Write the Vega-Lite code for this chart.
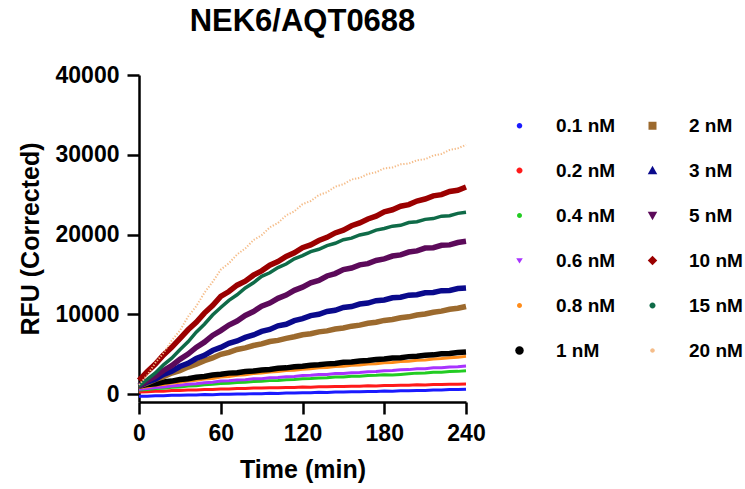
{
"$schema": "https://vega.github.io/schema/vega-lite/v6.json",
"width": 327, "height": 327,
"autosize": {"type": "none"},
"padding": {"left": 139, "top": 75, "right": 279, "bottom": 87},
"background": "white",
"title": {"text": "NEK6/AQT0688", "fontSize": 31, "fontWeight": "bold", "anchor": "middle", "frame": "group", "offset": 26, "color": "black"},
"data": {"values": [
{"s":"0.1 nM","t":0,"v":-290},{"s":"0.1 nM","t":6,"v":-280},{"s":"0.1 nM","t":12,"v":-220},{"s":"0.1 nM","t":18,"v":-220},{"s":"0.1 nM","t":24,"v":-160},{"s":"0.1 nM","t":30,"v":-160},{"s":"0.1 nM","t":36,"v":-110},{"s":"0.1 nM","t":42,"v":-120},{"s":"0.1 nM","t":48,"v":-70},{"s":"0.1 nM","t":54,"v":-80},{"s":"0.1 nM","t":60,"v":-30},{"s":"0.1 nM","t":66,"v":-40},{"s":"0.1 nM","t":72,"v":10},{"s":"0.1 nM","t":78,"v":0},{"s":"0.1 nM","t":84,"v":50},{"s":"0.1 nM","t":90,"v":40},{"s":"0.1 nM","t":96,"v":90},{"s":"0.1 nM","t":102,"v":80},{"s":"0.1 nM","t":108,"v":130},{"s":"0.1 nM","t":114,"v":120},{"s":"0.1 nM","t":120,"v":170},{"s":"0.1 nM","t":126,"v":160},{"s":"0.1 nM","t":132,"v":210},{"s":"0.1 nM","t":138,"v":200},{"s":"0.1 nM","t":144,"v":250},{"s":"0.1 nM","t":150,"v":240},{"s":"0.1 nM","t":156,"v":290},{"s":"0.1 nM","t":162,"v":280},{"s":"0.1 nM","t":168,"v":330},{"s":"0.1 nM","t":174,"v":320},{"s":"0.1 nM","t":180,"v":370},{"s":"0.1 nM","t":186,"v":360},{"s":"0.1 nM","t":192,"v":410},{"s":"0.1 nM","t":198,"v":400},{"s":"0.1 nM","t":204,"v":450},{"s":"0.1 nM","t":210,"v":440},{"s":"0.1 nM","t":216,"v":500},{"s":"0.1 nM","t":222,"v":500},{"s":"0.1 nM","t":228,"v":560},{"s":"0.1 nM","t":234,"v":560},{"s":"0.1 nM","t":240,"v":610},
{"s":"0.2 nM","t":0,"v":260},{"s":"0.2 nM","t":6,"v":280},{"s":"0.2 nM","t":12,"v":350},{"s":"0.2 nM","t":18,"v":360},{"s":"0.2 nM","t":24,"v":430},{"s":"0.2 nM","t":30,"v":440},{"s":"0.2 nM","t":36,"v":500},{"s":"0.2 nM","t":42,"v":500},{"s":"0.2 nM","t":48,"v":560},{"s":"0.2 nM","t":54,"v":560},{"s":"0.2 nM","t":60,"v":620},{"s":"0.2 nM","t":66,"v":620},{"s":"0.2 nM","t":72,"v":680},{"s":"0.2 nM","t":78,"v":680},{"s":"0.2 nM","t":84,"v":740},{"s":"0.2 nM","t":90,"v":740},{"s":"0.2 nM","t":96,"v":790},{"s":"0.2 nM","t":102,"v":780},{"s":"0.2 nM","t":108,"v":830},{"s":"0.2 nM","t":114,"v":820},{"s":"0.2 nM","t":120,"v":870},{"s":"0.2 nM","t":126,"v":860},{"s":"0.2 nM","t":132,"v":910},{"s":"0.2 nM","t":138,"v":900},{"s":"0.2 nM","t":144,"v":950},{"s":"0.2 nM","t":150,"v":940},{"s":"0.2 nM","t":156,"v":990},{"s":"0.2 nM","t":162,"v":980},{"s":"0.2 nM","t":168,"v":1030},{"s":"0.2 nM","t":174,"v":1020},{"s":"0.2 nM","t":180,"v":1070},{"s":"0.2 nM","t":186,"v":1060},{"s":"0.2 nM","t":192,"v":1110},{"s":"0.2 nM","t":198,"v":1100},{"s":"0.2 nM","t":204,"v":1150},{"s":"0.2 nM","t":210,"v":1140},{"s":"0.2 nM","t":216,"v":1190},{"s":"0.2 nM","t":222,"v":1180},{"s":"0.2 nM","t":228,"v":1230},{"s":"0.2 nM","t":234,"v":1220},{"s":"0.2 nM","t":240,"v":1260},
{"s":"0.4 nM","t":0,"v":510},{"s":"0.4 nM","t":6,"v":570},{"s":"0.4 nM","t":12,"v":680},{"s":"0.4 nM","t":18,"v":730},{"s":"0.4 nM","t":24,"v":840},{"s":"0.4 nM","t":30,"v":890},{"s":"0.4 nM","t":36,"v":1000},{"s":"0.4 nM","t":42,"v":1050},{"s":"0.4 nM","t":48,"v":1160},{"s":"0.4 nM","t":54,"v":1210},{"s":"0.4 nM","t":60,"v":1320},{"s":"0.4 nM","t":66,"v":1350},{"s":"0.4 nM","t":72,"v":1440},{"s":"0.4 nM","t":78,"v":1470},{"s":"0.4 nM","t":84,"v":1560},{"s":"0.4 nM","t":90,"v":1590},{"s":"0.4 nM","t":96,"v":1680},{"s":"0.4 nM","t":102,"v":1710},{"s":"0.4 nM","t":108,"v":1800},{"s":"0.4 nM","t":114,"v":1830},{"s":"0.4 nM","t":120,"v":1920},{"s":"0.4 nM","t":126,"v":1940},{"s":"0.4 nM","t":132,"v":2020},{"s":"0.4 nM","t":138,"v":2040},{"s":"0.4 nM","t":144,"v":2120},{"s":"0.4 nM","t":150,"v":2140},{"s":"0.4 nM","t":156,"v":2220},{"s":"0.4 nM","t":162,"v":2240},{"s":"0.4 nM","t":168,"v":2320},{"s":"0.4 nM","t":174,"v":2340},{"s":"0.4 nM","t":180,"v":2420},{"s":"0.4 nM","t":186,"v":2380},{"s":"0.4 nM","t":192,"v":2460},{"s":"0.4 nM","t":198,"v":2540},{"s":"0.4 nM","t":204,"v":2620},{"s":"0.4 nM","t":210,"v":2640},{"s":"0.4 nM","t":216,"v":2720},{"s":"0.4 nM","t":222,"v":2740},{"s":"0.4 nM","t":228,"v":2820},{"s":"0.4 nM","t":234,"v":2840},{"s":"0.4 nM","t":240,"v":2910},
{"s":"0.6 nM","t":0,"v":610},{"s":"0.6 nM","t":6,"v":690},{"s":"0.6 nM","t":12,"v":820},{"s":"0.6 nM","t":18,"v":890},{"s":"0.6 nM","t":24,"v":1010},{"s":"0.6 nM","t":30,"v":1090},{"s":"0.6 nM","t":36,"v":1220},{"s":"0.6 nM","t":42,"v":1280},{"s":"0.6 nM","t":48,"v":1410},{"s":"0.6 nM","t":54,"v":1490},{"s":"0.6 nM","t":60,"v":1620},{"s":"0.6 nM","t":66,"v":1650},{"s":"0.6 nM","t":72,"v":1760},{"s":"0.6 nM","t":78,"v":1790},{"s":"0.6 nM","t":84,"v":1900},{"s":"0.6 nM","t":90,"v":1930},{"s":"0.6 nM","t":96,"v":2040},{"s":"0.6 nM","t":102,"v":2070},{"s":"0.6 nM","t":108,"v":2180},{"s":"0.6 nM","t":114,"v":2210},{"s":"0.6 nM","t":120,"v":2320},{"s":"0.6 nM","t":126,"v":2340},{"s":"0.6 nM","t":132,"v":2440},{"s":"0.6 nM","t":138,"v":2460},{"s":"0.6 nM","t":144,"v":2560},{"s":"0.6 nM","t":150,"v":2580},{"s":"0.6 nM","t":156,"v":2680},{"s":"0.6 nM","t":162,"v":2700},{"s":"0.6 nM","t":168,"v":2800},{"s":"0.6 nM","t":174,"v":2820},{"s":"0.6 nM","t":180,"v":2920},{"s":"0.6 nM","t":186,"v":2940},{"s":"0.6 nM","t":192,"v":3040},{"s":"0.6 nM","t":198,"v":3060},{"s":"0.6 nM","t":204,"v":3160},{"s":"0.6 nM","t":210,"v":3180},{"s":"0.6 nM","t":216,"v":3280},{"s":"0.6 nM","t":222,"v":3300},{"s":"0.6 nM","t":228,"v":3400},{"s":"0.6 nM","t":234,"v":3420},{"s":"0.6 nM","t":240,"v":3510},
{"s":"0.8 nM","t":0,"v":820},{"s":"0.8 nM","t":6,"v":920},{"s":"0.8 nM","t":12,"v":1100},{"s":"0.8 nM","t":18,"v":1200},{"s":"0.8 nM","t":24,"v":1380},{"s":"0.8 nM","t":30,"v":1480},{"s":"0.8 nM","t":36,"v":1640},{"s":"0.8 nM","t":42,"v":1720},{"s":"0.8 nM","t":48,"v":1880},{"s":"0.8 nM","t":54,"v":1960},{"s":"0.8 nM","t":60,"v":2120},{"s":"0.8 nM","t":66,"v":2190},{"s":"0.8 nM","t":72,"v":2340},{"s":"0.8 nM","t":78,"v":2410},{"s":"0.8 nM","t":84,"v":2560},{"s":"0.8 nM","t":90,"v":2630},{"s":"0.8 nM","t":96,"v":2760},{"s":"0.8 nM","t":102,"v":2810},{"s":"0.8 nM","t":108,"v":2940},{"s":"0.8 nM","t":114,"v":2990},{"s":"0.8 nM","t":120,"v":3120},{"s":"0.8 nM","t":126,"v":3160},{"s":"0.8 nM","t":132,"v":3280},{"s":"0.8 nM","t":138,"v":3320},{"s":"0.8 nM","t":144,"v":3440},{"s":"0.8 nM","t":150,"v":3480},{"s":"0.8 nM","t":156,"v":3600},{"s":"0.8 nM","t":162,"v":3640},{"s":"0.8 nM","t":168,"v":3760},{"s":"0.8 nM","t":174,"v":3800},{"s":"0.8 nM","t":180,"v":3920},{"s":"0.8 nM","t":186,"v":3960},{"s":"0.8 nM","t":192,"v":4080},{"s":"0.8 nM","t":198,"v":4120},{"s":"0.8 nM","t":204,"v":4240},{"s":"0.8 nM","t":210,"v":4280},{"s":"0.8 nM","t":216,"v":4400},{"s":"0.8 nM","t":222,"v":4440},{"s":"0.8 nM","t":228,"v":4560},{"s":"0.8 nM","t":234,"v":4600},{"s":"0.8 nM","t":240,"v":4720},
{"s":"1 nM","t":0,"v":1000},{"s":"1 nM","t":6,"v":1180},{"s":"1 nM","t":12,"v":1300},{"s":"1 nM","t":18,"v":1500},{"s":"1 nM","t":24,"v":1620},{"s":"1 nM","t":30,"v":1820},{"s":"1 nM","t":36,"v":1920},{"s":"1 nM","t":42,"v":2100},{"s":"1 nM","t":48,"v":2200},{"s":"1 nM","t":54,"v":2380},{"s":"1 nM","t":60,"v":2480},{"s":"1 nM","t":66,"v":2620},{"s":"1 nM","t":72,"v":2680},{"s":"1 nM","t":78,"v":2820},{"s":"1 nM","t":84,"v":2880},{"s":"1 nM","t":90,"v":3020},{"s":"1 nM","t":96,"v":3080},{"s":"1 nM","t":102,"v":3220},{"s":"1 nM","t":108,"v":3280},{"s":"1 nM","t":114,"v":3420},{"s":"1 nM","t":120,"v":3480},{"s":"1 nM","t":126,"v":3610},{"s":"1 nM","t":132,"v":3660},{"s":"1 nM","t":138,"v":3780},{"s":"1 nM","t":144,"v":3840},{"s":"1 nM","t":150,"v":3970},{"s":"1 nM","t":156,"v":4020},{"s":"1 nM","t":162,"v":4150},{"s":"1 nM","t":168,"v":4200},{"s":"1 nM","t":174,"v":4330},{"s":"1 nM","t":180,"v":4380},{"s":"1 nM","t":186,"v":4510},{"s":"1 nM","t":192,"v":4560},{"s":"1 nM","t":198,"v":4690},{"s":"1 nM","t":204,"v":4740},{"s":"1 nM","t":210,"v":4870},{"s":"1 nM","t":216,"v":4910},{"s":"1 nM","t":222,"v":5040},{"s":"1 nM","t":228,"v":5080},{"s":"1 nM","t":234,"v":5210},{"s":"1 nM","t":240,"v":5270},
{"s":"2 nM","t":0,"v":1000},{"s":"2 nM","t":6,"v":1380},{"s":"2 nM","t":12,"v":1830},{"s":"2 nM","t":18,"v":2180},{"s":"2 nM","t":24,"v":2630},{"s":"2 nM","t":30,"v":2930},{"s":"2 nM","t":36,"v":3380},{"s":"2 nM","t":42,"v":3730},{"s":"2 nM","t":48,"v":4180},{"s":"2 nM","t":54,"v":4530},{"s":"2 nM","t":60,"v":4980},{"s":"2 nM","t":66,"v":5230},{"s":"2 nM","t":72,"v":5580},{"s":"2 nM","t":78,"v":5780},{"s":"2 nM","t":84,"v":6080},{"s":"2 nM","t":90,"v":6280},{"s":"2 nM","t":96,"v":6580},{"s":"2 nM","t":102,"v":6730},{"s":"2 nM","t":108,"v":6980},{"s":"2 nM","t":114,"v":7180},{"s":"2 nM","t":120,"v":7430},{"s":"2 nM","t":126,"v":7560},{"s":"2 nM","t":132,"v":7790},{"s":"2 nM","t":138,"v":7920},{"s":"2 nM","t":144,"v":8150},{"s":"2 nM","t":150,"v":8280},{"s":"2 nM","t":156,"v":8510},{"s":"2 nM","t":162,"v":8640},{"s":"2 nM","t":168,"v":8870},{"s":"2 nM","t":174,"v":9000},{"s":"2 nM","t":180,"v":9230},{"s":"2 nM","t":186,"v":9350},{"s":"2 nM","t":192,"v":9570},{"s":"2 nM","t":198,"v":9680},{"s":"2 nM","t":204,"v":9910},{"s":"2 nM","t":210,"v":10030},{"s":"2 nM","t":216,"v":10260},{"s":"2 nM","t":222,"v":10390},{"s":"2 nM","t":228,"v":10620},{"s":"2 nM","t":234,"v":10750},{"s":"2 nM","t":240,"v":10980},
{"s":"3 nM","t":0,"v":1000},{"s":"3 nM","t":6,"v":1500},{"s":"3 nM","t":12,"v":1850},{"s":"3 nM","t":18,"v":2450},{"s":"3 nM","t":24,"v":2850},{"s":"3 nM","t":30,"v":3450},{"s":"3 nM","t":36,"v":3850},{"s":"3 nM","t":42,"v":4450},{"s":"3 nM","t":48,"v":4850},{"s":"3 nM","t":54,"v":5450},{"s":"3 nM","t":60,"v":5850},{"s":"3 nM","t":66,"v":6350},{"s":"3 nM","t":72,"v":6650},{"s":"3 nM","t":78,"v":7100},{"s":"3 nM","t":84,"v":7400},{"s":"3 nM","t":90,"v":7850},{"s":"3 nM","t":96,"v":8100},{"s":"3 nM","t":102,"v":8550},{"s":"3 nM","t":108,"v":8750},{"s":"3 nM","t":114,"v":9200},{"s":"3 nM","t":120,"v":9450},{"s":"3 nM","t":126,"v":9830},{"s":"3 nM","t":132,"v":10000},{"s":"3 nM","t":138,"v":10350},{"s":"3 nM","t":144,"v":10500},{"s":"3 nM","t":150,"v":10850},{"s":"3 nM","t":156,"v":10970},{"s":"3 nM","t":162,"v":11280},{"s":"3 nM","t":168,"v":11400},{"s":"3 nM","t":174,"v":11700},{"s":"3 nM","t":180,"v":11800},{"s":"3 nM","t":186,"v":12070},{"s":"3 nM","t":192,"v":12130},{"s":"3 nM","t":198,"v":12390},{"s":"3 nM","t":204,"v":12450},{"s":"3 nM","t":210,"v":12700},{"s":"3 nM","t":216,"v":12730},{"s":"3 nM","t":222,"v":12960},{"s":"3 nM","t":228,"v":12990},{"s":"3 nM","t":234,"v":13220},{"s":"3 nM","t":240,"v":13300},
{"s":"5 nM","t":0,"v":1000},{"s":"5 nM","t":6,"v":1650},{"s":"5 nM","t":12,"v":2200},{"s":"5 nM","t":18,"v":2950},{"s":"5 nM","t":24,"v":3550},{"s":"5 nM","t":30,"v":4350},{"s":"5 nM","t":36,"v":5000},{"s":"5 nM","t":42,"v":5850},{"s":"5 nM","t":48,"v":6500},{"s":"5 nM","t":54,"v":7350},{"s":"5 nM","t":60,"v":7950},{"s":"5 nM","t":66,"v":8650},{"s":"5 nM","t":72,"v":9150},{"s":"5 nM","t":78,"v":9850},{"s":"5 nM","t":84,"v":10350},{"s":"5 nM","t":90,"v":11000},{"s":"5 nM","t":96,"v":11400},{"s":"5 nM","t":102,"v":12000},{"s":"5 nM","t":108,"v":12400},{"s":"5 nM","t":114,"v":13000},{"s":"5 nM","t":120,"v":13400},{"s":"5 nM","t":126,"v":13950},{"s":"5 nM","t":132,"v":14250},{"s":"5 nM","t":138,"v":14800},{"s":"5 nM","t":144,"v":15100},{"s":"5 nM","t":150,"v":15600},{"s":"5 nM","t":156,"v":15800},{"s":"5 nM","t":162,"v":16200},{"s":"5 nM","t":168,"v":16350},{"s":"5 nM","t":174,"v":16750},{"s":"5 nM","t":180,"v":16950},{"s":"5 nM","t":186,"v":17300},{"s":"5 nM","t":192,"v":17450},{"s":"5 nM","t":198,"v":17800},{"s":"5 nM","t":204,"v":17950},{"s":"5 nM","t":210,"v":18300},{"s":"5 nM","t":216,"v":18350},{"s":"5 nM","t":222,"v":18650},{"s":"5 nM","t":228,"v":18700},{"s":"5 nM","t":234,"v":19000},{"s":"5 nM","t":240,"v":19150},
{"s":"10 nM","t":0,"v":1700},{"s":"10 nM","t":6,"v":2800},{"s":"10 nM","t":12,"v":3750},{"s":"10 nM","t":18,"v":4900},{"s":"10 nM","t":24,"v":5850},{"s":"10 nM","t":30,"v":6950},{"s":"10 nM","t":36,"v":8050},{"s":"10 nM","t":42,"v":9000},{"s":"10 nM","t":48,"v":10150},{"s":"10 nM","t":54,"v":11100},{"s":"10 nM","t":60,"v":12250},{"s":"10 nM","t":66,"v":12850},{"s":"10 nM","t":72,"v":13650},{"s":"10 nM","t":78,"v":14150},{"s":"10 nM","t":84,"v":14900},{"s":"10 nM","t":90,"v":15450},{"s":"10 nM","t":96,"v":16150},{"s":"10 nM","t":102,"v":16600},{"s":"10 nM","t":108,"v":17250},{"s":"10 nM","t":114,"v":17700},{"s":"10 nM","t":120,"v":18350},{"s":"10 nM","t":126,"v":18700},{"s":"10 nM","t":132,"v":19250},{"s":"10 nM","t":138,"v":19650},{"s":"10 nM","t":144,"v":20200},{"s":"10 nM","t":150,"v":20550},{"s":"10 nM","t":156,"v":21100},{"s":"10 nM","t":162,"v":21450},{"s":"10 nM","t":168,"v":21950},{"s":"10 nM","t":174,"v":22300},{"s":"10 nM","t":180,"v":22850},{"s":"10 nM","t":186,"v":23100},{"s":"10 nM","t":192,"v":23550},{"s":"10 nM","t":198,"v":23750},{"s":"10 nM","t":204,"v":24200},{"s":"10 nM","t":210,"v":24450},{"s":"10 nM","t":216,"v":24850},{"s":"10 nM","t":222,"v":25000},{"s":"10 nM","t":228,"v":25400},{"s":"10 nM","t":234,"v":25550},{"s":"10 nM","t":240,"v":25950},
{"s":"15 nM","t":0,"v":1000},{"s":"15 nM","t":6,"v":1850},{"s":"15 nM","t":12,"v":2650},{"s":"15 nM","t":18,"v":3650},{"s":"15 nM","t":24,"v":4500},{"s":"15 nM","t":30,"v":5550},{"s":"15 nM","t":36,"v":6550},{"s":"15 nM","t":42,"v":7750},{"s":"15 nM","t":48,"v":8750},{"s":"15 nM","t":54,"v":9900},{"s":"15 nM","t":60,"v":10850},{"s":"15 nM","t":66,"v":11750},{"s":"15 nM","t":72,"v":12450},{"s":"15 nM","t":78,"v":13300},{"s":"15 nM","t":84,"v":13950},{"s":"15 nM","t":90,"v":14750},{"s":"15 nM","t":96,"v":15200},{"s":"15 nM","t":102,"v":15850},{"s":"15 nM","t":108,"v":16300},{"s":"15 nM","t":114,"v":16950},{"s":"15 nM","t":120,"v":17350},{"s":"15 nM","t":126,"v":17850},{"s":"15 nM","t":132,"v":18150},{"s":"15 nM","t":138,"v":18600},{"s":"15 nM","t":144,"v":18900},{"s":"15 nM","t":150,"v":19350},{"s":"15 nM","t":156,"v":19550},{"s":"15 nM","t":162,"v":19950},{"s":"15 nM","t":168,"v":20150},{"s":"15 nM","t":174,"v":20550},{"s":"15 nM","t":180,"v":20750},{"s":"15 nM","t":186,"v":21050},{"s":"15 nM","t":192,"v":21150},{"s":"15 nM","t":198,"v":21500},{"s":"15 nM","t":204,"v":21600},{"s":"15 nM","t":210,"v":21900},{"s":"15 nM","t":216,"v":22000},{"s":"15 nM","t":222,"v":22300},{"s":"15 nM","t":228,"v":22350},{"s":"15 nM","t":234,"v":22650},{"s":"15 nM","t":240,"v":22800},
{"s":"20 nM","t":0,"v":1150},{"s":"20 nM","t":6,"v":2350},{"s":"20 nM","t":12,"v":3900},{"s":"20 nM","t":18,"v":5150},{"s":"20 nM","t":24,"v":6700},{"s":"20 nM","t":30,"v":7950},{"s":"20 nM","t":36,"v":9700},{"s":"20 nM","t":42,"v":11000},{"s":"20 nM","t":48,"v":12700},{"s":"20 nM","t":54,"v":14050},{"s":"20 nM","t":60,"v":15600},{"s":"20 nM","t":66,"v":16400},{"s":"20 nM","t":72,"v":17500},{"s":"20 nM","t":78,"v":18250},{"s":"20 nM","t":84,"v":19300},{"s":"20 nM","t":90,"v":19900},{"s":"20 nM","t":96,"v":20900},{"s":"20 nM","t":102,"v":21450},{"s":"20 nM","t":108,"v":22400},{"s":"20 nM","t":114,"v":22900},{"s":"20 nM","t":120,"v":23800},{"s":"20 nM","t":126,"v":24200},{"s":"20 nM","t":132,"v":24950},{"s":"20 nM","t":138,"v":25300},{"s":"20 nM","t":144,"v":26000},{"s":"20 nM","t":150,"v":26300},{"s":"20 nM","t":156,"v":26900},{"s":"20 nM","t":162,"v":27100},{"s":"20 nM","t":168,"v":27600},{"s":"20 nM","t":174,"v":27800},{"s":"20 nM","t":180,"v":28300},{"s":"20 nM","t":186,"v":28400},{"s":"20 nM","t":192,"v":28800},{"s":"20 nM","t":198,"v":28900},{"s":"20 nM","t":204,"v":29300},{"s":"20 nM","t":210,"v":29450},{"s":"20 nM","t":216,"v":29900},{"s":"20 nM","t":222,"v":30100},{"s":"20 nM","t":228,"v":30600},{"s":"20 nM","t":234,"v":30800},{"s":"20 nM","t":240,"v":31250}
]},
"encoding": {
  "x": {"field": "t", "type": "quantitative", "scale": {"domain": [0, 240], "nice": false},
        "axis": {"values": [0, 60, 120, 180, 240], "title": "Time (min)", "labelFlush": false, "labelPadding": 8, "titlePadding": 12}},
  "y": {"field": "v", "type": "quantitative", "scale": {"domain": [-1000, 40000], "nice": false, "zero": false},
        "axis": {"values": [0, 10000, 20000, 30000, 40000], "format": "d", "title": "RFU (Corrected)", "labelPadding": 8, "titlePadding": 12}},
  "stroke": {"field": "s", "type": "nominal", "legend": null,
        "scale": {"domain": ["20 nM","15 nM","10 nM","5 nM","3 nM","2 nM","1 nM","0.8 nM","0.6 nM","0.4 nM","0.2 nM","0.1 nM"],
                  "range": ["#f5bd8a","#0f6b48","#9b0000","#5c0a5a","#0a0a8c","#9c6a2e","#000000","#ff8c1a","#a833ff","#22cc22","#ff1a1a","#1a1aff"]}}
},
"layer": [
  {
    "transform": [{"filter": {"field": "s", "oneOf": ["0.1 nM","0.2 nM","0.4 nM","0.6 nM","0.8 nM"]}}],
    "mark": {"type": "line", "strokeWidth": 3, "clip": false}
  },
  {
    "transform": [{"filter": {"field": "s", "oneOf": ["1 nM","2 nM","3 nM","5 nM","10 nM"]}}],
    "mark": {"type": "line", "strokeWidth": 5.5, "clip": false}
  },
  {
    "transform": [{"filter": {"field": "s", "oneOf": ["15 nM"]}}],
    "mark": {"type": "line", "strokeWidth": 3.5, "clip": false}
  },
  {
    "transform": [{"filter": {"field": "s", "oneOf": ["20 nM"]}}],
    "mark": {"type": "line", "strokeWidth": 2, "strokeDash": [1.3, 1.7], "clip": false}
  },
  {
    "mark": {"type": "point", "filled": true, "opacity": 0, "size": 64},
    "encoding": {
      "stroke": null,
      "color": {"field": "s", "type": "nominal",
        "scale": {"domain": ["0.1 nM","0.2 nM","0.4 nM","0.6 nM","0.8 nM","1 nM","2 nM","3 nM","5 nM","10 nM","15 nM","20 nM"],
                  "range": ["#1a1aff","#ff1a1a","#22cc22","#a833ff","#ff8c1a","#000000","#9c6a2e","#0a0a8c","#5c0a5a","#9b0000","#0f6b48","#f5bd8a"]},
        "legend": {"title": null, "orient": "none", "legendX": 371, "legendY": 41, "columns": 2, "columnPadding": 27, "rowPadding": 25, "labelOffset": 27, "symbolOpacity": 1, "symbolStrokeWidth": 0, "labelFontSize": 19, "labelFontWeight": "bold", "labelColor": "black"}},
      "shape": {"field": "s", "type": "nominal",
        "scale": {"domain": ["0.1 nM","0.2 nM","0.4 nM","0.6 nM","0.8 nM","1 nM","2 nM","3 nM","5 nM","10 nM","15 nM","20 nM"],
                  "range": ["M-0.55,0A0.55,0.55,0,1,1,0.55,0A0.55,0.55,0,1,1,-0.55,0Z",
                            "M-0.6,0A0.6,0.6,0,1,1,0.6,0A0.6,0.6,0,1,1,-0.6,0Z",
                            "M-0.5,0A0.5,0.5,0,1,1,0.5,0A0.5,0.5,0,1,1,-0.5,0Z",
                            "M0,0.6L0.65,-0.45L-0.65,-0.45Z",
                            "M-0.5,0A0.5,0.5,0,1,1,0.5,0A0.5,0.5,0,1,1,-0.5,0Z",
                            "M-0.85,0A0.85,0.85,0,1,1,0.85,0A0.85,0.85,0,1,1,-0.85,0Z",
                            "M-0.8,-0.8H0.8V0.8H-0.8Z",
                            "M0,-0.95L0.95,0.75L-0.95,0.75Z",
                            "M0,0.95L0.95,-0.75L-0.95,-0.75Z",
                            "M0,-0.95L0.95,0L0,0.95L-0.95,0Z",
                            "M-0.6,0A0.6,0.6,0,1,1,0.6,0A0.6,0.6,0,1,1,-0.6,0Z",
                            "M-0.45,0A0.45,0.45,0,1,1,0.45,0A0.45,0.45,0,1,1,-0.45,0Z"]},
        "legend": {"title": null, "orient": "none", "legendX": 371, "legendY": 41, "columns": 2, "columnPadding": 27, "rowPadding": 25, "labelOffset": 27, "symbolOpacity": 1, "symbolStrokeWidth": 0, "labelFontSize": 19, "labelFontWeight": "bold", "labelColor": "black"}}
    }
  }
],
"config": {
  "font": "Liberation Sans",
  "view": {"stroke": null},
  "axis": {"grid": false, "domainColor": "black", "domainWidth": 2.5, "tickColor": "black", "tickWidth": 2.5, "tickSize": 12,
           "labelFontSize": 23, "labelFontWeight": "bold", "labelColor": "black",
           "titleFontSize": 25, "titleFontWeight": "bold", "titleColor": "black"}
}
}
